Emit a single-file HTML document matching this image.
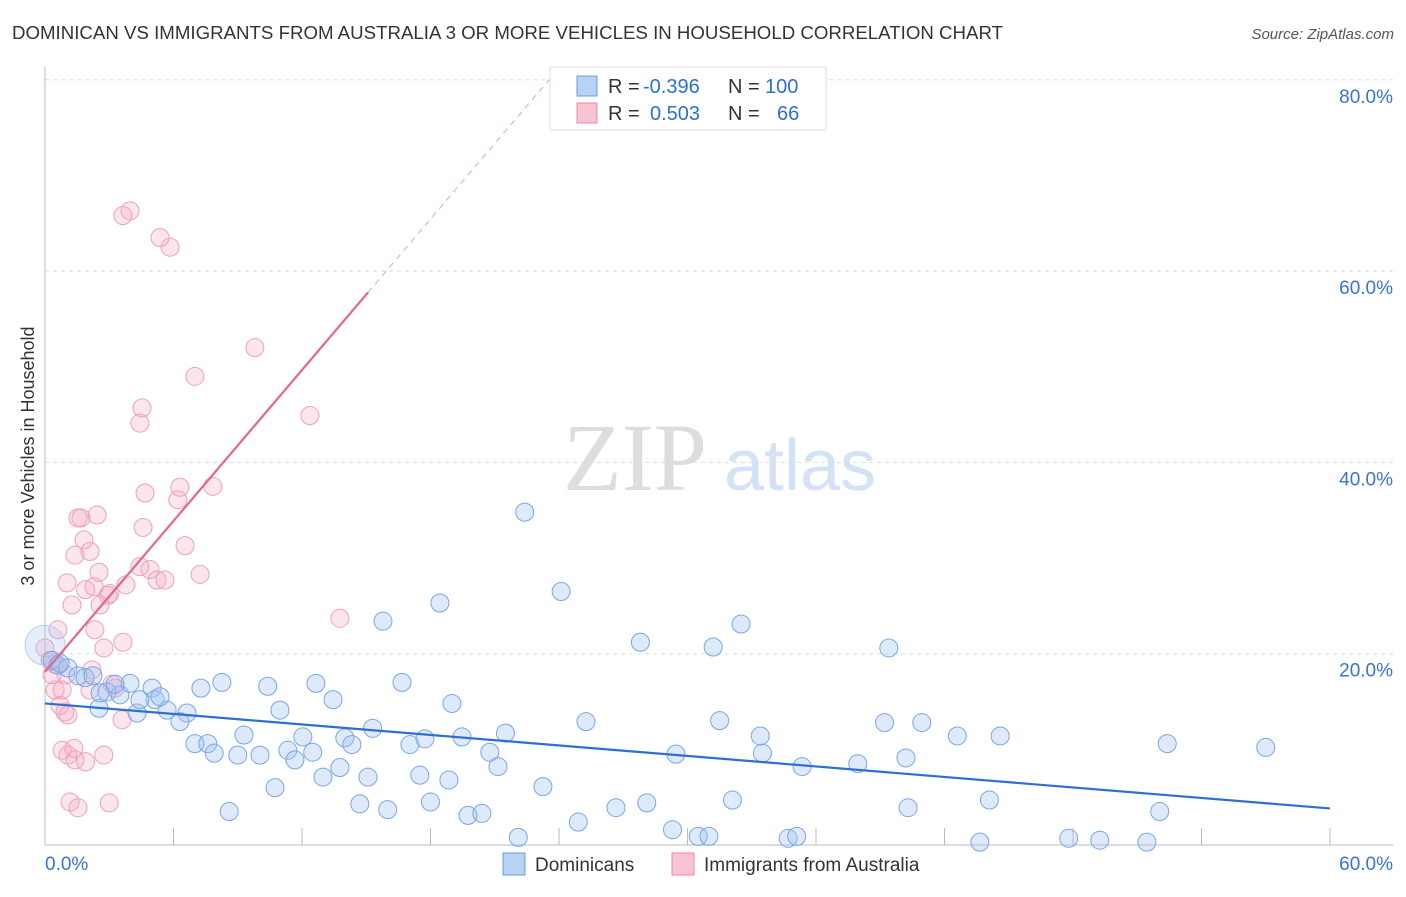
<!DOCTYPE html>
<html><head><meta charset="utf-8"><style>
body{margin:0;background:#fff;font-family:"Liberation Sans",sans-serif}
</style></head><body>
<svg id="chart" width="1406" height="892" xmlns="http://www.w3.org/2000/svg" font-family="Liberation Sans, sans-serif">
<text x="12" y="39" font-size="18" fill="#333" textLength="991" lengthAdjust="spacingAndGlyphs">DOMINICAN VS IMMIGRANTS FROM AUSTRALIA 3 OR MORE VEHICLES IN HOUSEHOLD CORRELATION CHART</text>
<text x="1394" y="39" font-size="15" fill="#555" text-anchor="end" font-style="italic">Source: ZipAtlas.com</text>
<g>
<text x="635" y="490" font-size="96" fill="#ddd" font-family="Liberation Serif, serif" text-anchor="middle">ZIP</text>
<text x="800" y="490" font-size="72" fill="#d3e2f5" text-anchor="middle">atlas</text></g>
<g id="grid"></g><g id="axes"></g><g id="marks"></g>
<text transform="translate(34,456) rotate(-90)" font-size="18" fill="#333" text-anchor="middle">3 or more Vehicles in Household</text>
<g font-size="20">
<rect x="550" y="67" width="276" height="63" fill="#fff" stroke="#ddd"/>
<rect x="577" y="76" width="20" height="20" fill="#b8d2f4" stroke="#6a9be0"/>
<rect x="577" y="103" width="20" height="20" fill="#f8c4d4" stroke="#e98aa8"/>
<text x="608" y="93" fill="#333">R =</text><text x="643" y="93" fill="#2b6fd6">-0.396</text>
<text x="728" y="93" fill="#333">N =</text><text x="765" y="93" fill="#2b6fd6">100</text>
<text x="608" y="120" fill="#333">R =</text><text x="650" y="120" fill="#2b6fd6">0.503</text>
<text x="728" y="120" fill="#333">N =</text><text x="777" y="120" fill="#2b6fd6">66</text>
</g>
<g>
<rect x="503" y="853" width="22" height="22" fill="#b8d2f4" stroke="#6a9be0"/>
<text x="535" y="871" font-size="19" fill="#333">Dominicans</text>
<rect x="672" y="853" width="22" height="22" fill="#f8c4d4" stroke="#e98aa8"/>
<text x="704" y="871" font-size="19" fill="#333">Immigrants from Australia</text>
</g>
</svg>
<script>
const xTicks=[0,6,12,18,24,30,36,42,48,54,60];
const yTicks=[20,40,60,80];
const yTickLabels=["20.0%","40.0%","60.0%","80.0%"];
const blueX=[0,0.33,0.6,1.07,1.54,1.87,2.24,2.89,2.52,3.5,3.97,3.27,4.3,5.0,5.14,5.7,6.63,6.3,7.28,8.26,7.0,7.6,7.9,9.0,9.29,10.04,10.4,10.97,10.74,8.6,11.34,11.67,12.04,12.5,12.65,12.98,13.45,13.77,14.0,14.33,14.7,15.08,15.3,15.78,16.0,16.67,17.04,17.5,17.74,18.0,18.44,18.86,19.0,19.47,19.75,20.4,20.77,21.15,21.5,22.1,22.4,23.25,24.1,24.9,25.26,26.66,27.8,28.1,29.3,29.46,30.5,31.0,31.2,31.5,32.1,32.5,33.4,33.5,34.7,35.1,35.35,37.95,39.2,39.4,40.2,40.3,40.94,42.6,43.65,44.1,44.6,47.8,49.25,51.45,52.05,52.4,57.0,0.7,2.57,4.43,5.37];
const blueY=[20.9,19.3,18.8,18.5,17.7,17.5,17.7,16.0,14.3,15.7,16.9,16.8,13.8,16.4,15.2,14.1,13.8,12.9,16.4,17.0,10.6,10.6,9.6,9.4,11.5,9.4,16.6,14.1,6.0,3.5,9.9,8.9,11.3,9.7,16.9,7.1,15.2,8.1,11.2,10.5,4.3,7.1,12.2,23.4,3.7,17.0,10.5,7.3,11.1,4.5,25.3,6.8,14.8,11.3,3.1,3.3,9.7,8.2,11.7,0.8,34.8,6.1,26.5,2.4,12.9,3.9,21.2,4.4,1.6,9.5,0.9,0.9,20.7,13.0,4.7,23.1,11.4,9.6,0.7,0.9,8.2,8.5,12.8,20.6,9.1,3.9,12.8,11.4,0.3,4.7,11.4,0.7,0.5,0.3,3.5,10.6,10.2,19.0,15.9,15.2,15.5];
const pinkX=[0,0.23,0.33,0.47,0.6,0.47,0.7,0.93,1.07,1.03,1.26,1.4,1.54,1.68,1.82,2.1,1.9,2.29,2.43,2.52,2.33,2.57,2.75,2.94,3.03,3.27,3.13,3.64,3.78,3.6,4.43,4.58,4.67,4.9,5.23,5.6,6.2,6.3,6.54,7.24,7.84,4.43,4.53,5.37,7.0,9.8,12.37,13.77,3.97,3.64,5.84,0.8,1.07,1.35,1.4,1.9,2.75,1.17,1.54,3.0,2.1,0.8,0.98,2.19];
const pinkY=[20.6,19.3,17.8,16.2,22.5,18.9,14.6,13.9,13.6,27.4,25.1,30.3,34.2,34.2,31.9,30.7,26.7,27.0,34.5,28.5,22.5,25.1,20.6,26.1,26.3,16.4,16.8,21.2,27.2,13.1,29.1,33.2,36.8,28.8,27.7,27.7,36.1,37.4,31.3,28.3,37.5,44.1,45.7,63.5,49.0,52.0,44.9,23.7,66.3,65.8,62.5,9.9,9.4,10.1,8.9,8.7,9.4,4.5,3.9,4.4,16.2,16.2,17.8,18.3];
const blueTrend=[14.8,-0.183];
const pinkTrend=[18.1,2.63];
const X0=45,X1=1330,Y0=845,YS=9.565;
const sx=v=>X0+(X1-X0)*v/60, sy=v=>Y0-v*YS;
const NS="http://www.w3.org/2000/svg";
function mk(t,a,p){const e=document.createElementNS(NS,t);for(const k in a)e.setAttribute(k,a[k]);p.appendChild(e);return e;}
const grid=document.getElementById('grid'),axes=document.getElementById('axes'),marks=document.getElementById('marks');
yTicks.forEach((v,i)=>{
 const l=mk('line',{x1:X0,x2:1393,y1:sy(v),y2:sy(v),stroke:'#ddd','stroke-dasharray':'4,4'},grid);
 
 
 const t=mk('text',{x:1393,y:sy(v)+23,'font-size':19,fill:'#3a72d0','text-anchor':'end'},axes);
 t.textContent=yTickLabels[i];
 
 
});
mk('line',{x1:X0,x2:X0,y1:67,y2:Y0,stroke:'#bbb'},axes);
mk('line',{x1:X0,x2:1393,y1:Y0,y2:Y0,stroke:'#bbb'},axes);
xTicks.forEach(v=>{const l=mk('line',{x1:sx(v),x2:sx(v),y1:828,y2:Y0,stroke:'#bbb'},axes);
 
 });
const xl0=mk('text',{x:45,y:870,'font-size':19,fill:'#3a72d0'},axes);xl0.textContent='0.0%';


const xl1=mk('text',{x:1393,y:870,'font-size':19,fill:'#3a72d0','text-anchor':'end'},axes);xl1.textContent='60.0%';


pinkX.forEach((x,i)=>{const c=mk('circle',{cx:sx(x),cy:sy(pinkY[i]),r:9,fill:'rgba(244,165,195,0.28)',stroke:'#eea0b9','stroke-width':1},marks);
 
 });
blueX.forEach((x,i)=>{const c=mk('circle',{cx:sx(x),cy:sy(blueY[i]),r:i==0?20:9,fill:i==0?'rgba(170,200,240,0.3)':'rgba(160,196,240,0.35)',stroke:i==0?'#b5cdf0':'#78a6e4','stroke-width':1},marks);
 
 });
const bl=mk('line',{x1:sx(0),y1:sy(blueTrend[0]),x2:sx(60),y2:sy(blueTrend[0]+blueTrend[1]*60),stroke:'#2e6fd4','stroke-width':2.2},marks);


const pe=15.08, pd=(80-pinkTrend[0])/pinkTrend[1];
const pl=mk('line',{x1:sx(0),y1:sy(pinkTrend[0]),x2:sx(pe),y2:sy(pinkTrend[0]+pinkTrend[1]*pe),stroke:'#e4668f','stroke-width':2.2},marks);


const pdl=mk('line',{x1:sx(pe),y1:sy(pinkTrend[0]+pinkTrend[1]*pe),x2:sx(pd),y2:sy(80),stroke:'#e9a0b8','stroke-width':1,'stroke-dasharray':'6,5'},marks);


</script>
</body></html>
